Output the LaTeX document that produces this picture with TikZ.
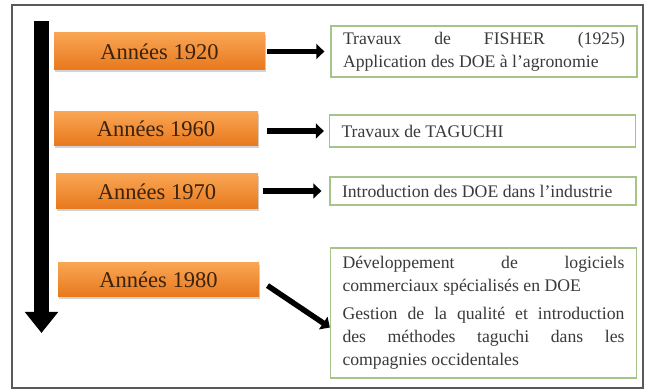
\documentclass[tikz,border=0pt]{standalone}
\usepackage{fontspec}
\setmainfont{Liberation Serif}
\usetikzlibrary{positioning,arrows.meta,shadows}
\definecolor{orangetop}{HTML}{F9A553}
\definecolor{orangebot}{HTML}{E8781C}
\definecolor{yeartext}{HTML}{3A220C}
\definecolor{notegreen}{HTML}{A6C48A}
\definecolor{notetext}{HTML}{3A3A3A}

\begin{document}
\begin{tikzpicture}[x=1pt, y=-1pt,
      year/.style={top color=orangetop, bottom color=orangebot,
                   drop shadow={shadow xshift=1pt, shadow yshift=-2pt, opacity=.35},
                   minimum height=35pt, inner sep=0pt, text=yeartext,
                   font=\fontsize{22.5}{26}\selectfont},
      note/.style={draw=notegreen, line width=1.3pt, fill=white, align=justify,
                   text width=282pt, inner xsep=12pt, text=notetext,
                   font=\fontsize{17.7}{23}\selectfont},
      link/.style={line width=5.5pt, -{Triangle[length=8pt,width=15pt]}}]
    \useasboundingbox (0,0) rectangle (646,390);
    \draw[draw=black!65, line width=1.2pt] (12,5) rectangle (643,388);
    % time axis
    \coordinate (t0) at (41.5,21);
    \coordinate (t1) at (41.5,333);
    \draw[line width=15pt, -{Triangle[length=21pt,width=32pt]}] (t0) -- (t1);
    \node[year, minimum width=211pt, minimum height=37pt] (y1920) at (159.5,51.5) {Années 1920};
    \node[year, minimum width=204pt, minimum height=34pt] (y1960) at (156,129) {Années 1960};
    \node[year, minimum width=202pt] (y1970) at (157,191.5) {Années 1970};
    \node[year, minimum width=201pt, minimum height=34pt] (y1980) at (158.5,280) {Années 1980};
    \node[note, minimum height=51pt] (d1920) at (484,51.5)
      {Travaux de FISHER (1925)\linebreak Application des DOE à l’agronomie};
    \node[note, minimum height=32pt] (d1960) at (482.5,131) {Travaux de TAGUCHI};
    \node[note, minimum height=28pt] (d1970) at (483,191) {Introduction des DOE dans l’industrie};
    \node[note, minimum height=130pt] (d1980) at (483.5,313)
      {Développement de logiciels\linebreak commerciaux spécialisés en DOE\\[5pt]
       Gestion de la qualité et introduction\linebreak des méthodes taguchi dans les\linebreak compagnies occidentales};
    \draw[link, shorten <=2pt, shorten >=6pt] (y1920.east) -- (y1920.east -| d1920.west);
    \draw[link, shorten <=9pt, shorten >=5pt] (y1960.east |- d1960.west) -- (d1960.west);
    \draw[link, shorten <=5pt, shorten >=8pt] (y1970.east |- d1970.west) -- (d1970.west);
    \draw[link, shorten <=10pt] (y1980.east) -- ([yshift=-14.5pt]d1980.west);
  \end{tikzpicture}
\end{document}
